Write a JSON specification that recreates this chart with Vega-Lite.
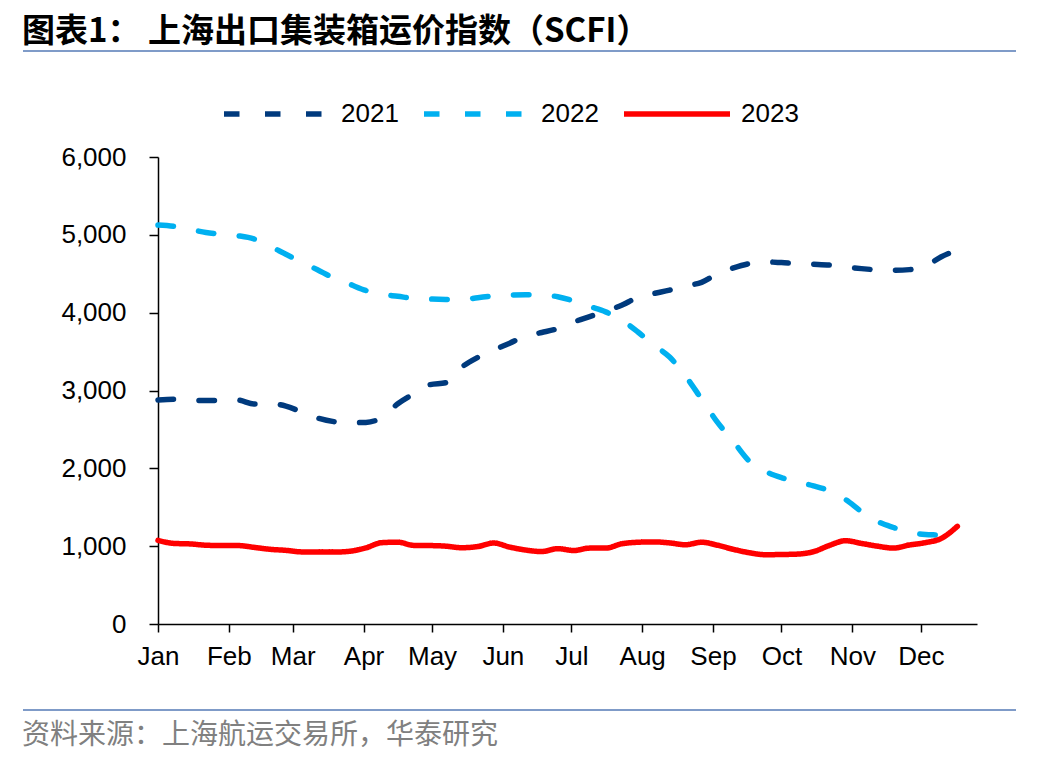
{
  "$schema": "https://vega.github.io/schema/vega-lite/v6.json",
  "description": "SCFI weekly index 2021-2023, read from the reference chart.",
  "padding": {"left": 22, "top": 16, "right": 10, "bottom": 5},
  "spacing": 10,
  "config": {
    "view": {"stroke": null},
    "font": "Liberation Sans",
    "legend": {
      "orient": "none",
      "legendX": 63,
      "legendY": 7,
      "direction": "horizontal",
      "padding": 0,
      "symbolType": "stroke",
      "symbolSize": 11236,
      "symbolStrokeWidth": 5.5,
      "labelFontSize": 26,
      "labelFont": "Liberation Sans",
      "labelColor": "#000000",
      "labelOffset": 8,
      "columnPadding": 14
    }
  },
  "vconcat": [
    {
      "width": 858,
      "height": 83,
      "title": {
        "text": "图表1： 上海出口集装箱运价指数（SCFI）",
        "anchor": "start",
        "font": "Noto Sans CJK SC",
        "fontSize": 33,
        "fontWeight": "bold",
        "color": "#000000",
        "offset": 1
      },
      "data": {"values": [{"start": 0, "end": 1, "pos": 1}]},
      "mark": {"type": "rule", "color": "#7F9BC8", "strokeWidth": 2},
      "encoding": {
        "x": {"field": "start", "type": "quantitative", "scale": {"domain": [0, 1], "range": [-135, 858]}, "axis": null},
        "x2": {"field": "end"},
        "y": {"field": "pos", "type": "quantitative", "scale": {"domain": [0, 1]}, "axis": null}
      }
    },
    {
      "width": 819,
      "height": 467,
      "data": {
        "values": [
          {"year": "2021", "day": 0, "scfi": 2878},
          {"year": "2021", "day": 7, "scfi": 2888},
          {"year": "2021", "day": 14, "scfi": 2878},
          {"year": "2021", "day": 21, "scfi": 2870},
          {"year": "2021", "day": 28, "scfi": 2870},
          {"year": "2021", "day": 35, "scfi": 2876},
          {"year": "2021", "day": 42, "scfi": 2827},
          {"year": "2021", "day": 49, "scfi": 2832},
          {"year": "2021", "day": 56, "scfi": 2800},
          {"year": "2021", "day": 63, "scfi": 2723},
          {"year": "2021", "day": 70, "scfi": 2645},
          {"year": "2021", "day": 77, "scfi": 2600},
          {"year": "2021", "day": 84, "scfi": 2586},
          {"year": "2021", "day": 91, "scfi": 2590},
          {"year": "2021", "day": 98, "scfi": 2652},
          {"year": "2021", "day": 105, "scfi": 2830},
          {"year": "2021", "day": 112, "scfi": 2958},
          {"year": "2021", "day": 119, "scfi": 3075},
          {"year": "2021", "day": 126, "scfi": 3100},
          {"year": "2021", "day": 133, "scfi": 3300},
          {"year": "2021", "day": 140, "scfi": 3425},
          {"year": "2021", "day": 147, "scfi": 3520},
          {"year": "2021", "day": 154, "scfi": 3608},
          {"year": "2021", "day": 161, "scfi": 3700},
          {"year": "2021", "day": 168, "scfi": 3745},
          {"year": "2021", "day": 175, "scfi": 3795},
          {"year": "2021", "day": 182, "scfi": 3880},
          {"year": "2021", "day": 189, "scfi": 3950},
          {"year": "2021", "day": 196, "scfi": 4020},
          {"year": "2021", "day": 203, "scfi": 4095},
          {"year": "2021", "day": 210, "scfi": 4195},
          {"year": "2021", "day": 217, "scfi": 4245},
          {"year": "2021", "day": 224, "scfi": 4290},
          {"year": "2021", "day": 231, "scfi": 4343},
          {"year": "2021", "day": 238, "scfi": 4390},
          {"year": "2021", "day": 245, "scfi": 4500},
          {"year": "2021", "day": 252, "scfi": 4575},
          {"year": "2021", "day": 259, "scfi": 4630},
          {"year": "2021", "day": 266, "scfi": 4652},
          {"year": "2021", "day": 273, "scfi": 4643},
          {"year": "2021", "day": 280, "scfi": 4630},
          {"year": "2021", "day": 287, "scfi": 4622},
          {"year": "2021", "day": 294, "scfi": 4612},
          {"year": "2021", "day": 301, "scfi": 4588},
          {"year": "2021", "day": 308, "scfi": 4566},
          {"year": "2021", "day": 315, "scfi": 4550},
          {"year": "2021", "day": 322, "scfi": 4545},
          {"year": "2021", "day": 329, "scfi": 4553},
          {"year": "2021", "day": 336, "scfi": 4600},
          {"year": "2021", "day": 343, "scfi": 4718},
          {"year": "2021", "day": 350, "scfi": 4805},
          {"year": "2022", "day": 0, "scfi": 5126},
          {"year": "2022", "day": 7, "scfi": 5109},
          {"year": "2022", "day": 14, "scfi": 5070},
          {"year": "2022", "day": 21, "scfi": 5030},
          {"year": "2022", "day": 28, "scfi": 5008},
          {"year": "2022", "day": 35, "scfi": 4988},
          {"year": "2022", "day": 42, "scfi": 4948},
          {"year": "2022", "day": 49, "scfi": 4855},
          {"year": "2022", "day": 56, "scfi": 4750},
          {"year": "2022", "day": 63, "scfi": 4650},
          {"year": "2022", "day": 70, "scfi": 4548},
          {"year": "2022", "day": 77, "scfi": 4445},
          {"year": "2022", "day": 84, "scfi": 4365},
          {"year": "2022", "day": 91, "scfi": 4285},
          {"year": "2022", "day": 98, "scfi": 4235},
          {"year": "2022", "day": 105, "scfi": 4210},
          {"year": "2022", "day": 112, "scfi": 4183},
          {"year": "2022", "day": 119, "scfi": 4175},
          {"year": "2022", "day": 126, "scfi": 4170},
          {"year": "2022", "day": 133, "scfi": 4168},
          {"year": "2022", "day": 140, "scfi": 4192},
          {"year": "2022", "day": 147, "scfi": 4216},
          {"year": "2022", "day": 154, "scfi": 4226},
          {"year": "2022", "day": 161, "scfi": 4231},
          {"year": "2022", "day": 168, "scfi": 4227},
          {"year": "2022", "day": 175, "scfi": 4205},
          {"year": "2022", "day": 182, "scfi": 4150},
          {"year": "2022", "day": 189, "scfi": 4080},
          {"year": "2022", "day": 196, "scfi": 4010},
          {"year": "2022", "day": 203, "scfi": 3905},
          {"year": "2022", "day": 210, "scfi": 3755},
          {"year": "2022", "day": 217, "scfi": 3585},
          {"year": "2022", "day": 224, "scfi": 3430},
          {"year": "2022", "day": 231, "scfi": 3185},
          {"year": "2022", "day": 238, "scfi": 2890},
          {"year": "2022", "day": 245, "scfi": 2590},
          {"year": "2022", "day": 252, "scfi": 2342},
          {"year": "2022", "day": 259, "scfi": 2090},
          {"year": "2022", "day": 266, "scfi": 1960},
          {"year": "2022", "day": 273, "scfi": 1880},
          {"year": "2022", "day": 280, "scfi": 1825},
          {"year": "2022", "day": 287, "scfi": 1775},
          {"year": "2022", "day": 294, "scfi": 1710},
          {"year": "2022", "day": 301, "scfi": 1600},
          {"year": "2022", "day": 308, "scfi": 1445},
          {"year": "2022", "day": 315, "scfi": 1318},
          {"year": "2022", "day": 322, "scfi": 1240},
          {"year": "2022", "day": 329, "scfi": 1178},
          {"year": "2022", "day": 336, "scfi": 1150},
          {"year": "2022", "day": 343, "scfi": 1140},
          {"year": "2022", "day": 350, "scfi": 1101},
          {"year": "2023", "day": 0, "scfi": 1075},
          {"year": "2023", "day": 7, "scfi": 1035},
          {"year": "2023", "day": 14, "scfi": 1029},
          {"year": "2023", "day": 21, "scfi": 1012},
          {"year": "2023", "day": 28, "scfi": 1008},
          {"year": "2023", "day": 35, "scfi": 1008},
          {"year": "2023", "day": 42, "scfi": 985},
          {"year": "2023", "day": 49, "scfi": 960},
          {"year": "2023", "day": 56, "scfi": 946},
          {"year": "2023", "day": 63, "scfi": 926},
          {"year": "2023", "day": 70, "scfi": 924},
          {"year": "2023", "day": 77, "scfi": 924},
          {"year": "2023", "day": 84, "scfi": 935},
          {"year": "2023", "day": 91, "scfi": 978},
          {"year": "2023", "day": 98, "scfi": 1045},
          {"year": "2023", "day": 105, "scfi": 1051},
          {"year": "2023", "day": 112, "scfi": 1010},
          {"year": "2023", "day": 119, "scfi": 1008},
          {"year": "2023", "day": 126, "scfi": 1000},
          {"year": "2023", "day": 133, "scfi": 980},
          {"year": "2023", "day": 140, "scfi": 995},
          {"year": "2023", "day": 147, "scfi": 1040},
          {"year": "2023", "day": 154, "scfi": 988},
          {"year": "2023", "day": 161, "scfi": 950},
          {"year": "2023", "day": 168, "scfi": 931},
          {"year": "2023", "day": 175, "scfi": 968},
          {"year": "2023", "day": 182, "scfi": 944},
          {"year": "2023", "day": 189, "scfi": 975},
          {"year": "2023", "day": 196, "scfi": 975},
          {"year": "2023", "day": 203, "scfi": 1030},
          {"year": "2023", "day": 210, "scfi": 1050},
          {"year": "2023", "day": 217, "scfi": 1055},
          {"year": "2023", "day": 224, "scfi": 1042},
          {"year": "2023", "day": 231, "scfi": 1018},
          {"year": "2023", "day": 238, "scfi": 1050},
          {"year": "2023", "day": 245, "scfi": 1012},
          {"year": "2023", "day": 252, "scfi": 958},
          {"year": "2023", "day": 259, "scfi": 915},
          {"year": "2023", "day": 266, "scfi": 890},
          {"year": "2023", "day": 273, "scfi": 893},
          {"year": "2023", "day": 280, "scfi": 898},
          {"year": "2023", "day": 287, "scfi": 929},
          {"year": "2023", "day": 294, "scfi": 1010},
          {"year": "2023", "day": 301, "scfi": 1070},
          {"year": "2023", "day": 308, "scfi": 1035},
          {"year": "2023", "day": 315, "scfi": 1000},
          {"year": "2023", "day": 322, "scfi": 975},
          {"year": "2023", "day": 329, "scfi": 1015},
          {"year": "2023", "day": 336, "scfi": 1045},
          {"year": "2023", "day": 343, "scfi": 1100},
          {"year": "2023", "day": 350, "scfi": 1255}
        ]
      },
      "mark": {"type": "line", "strokeWidth": 5.5, "strokeCap": "round", "interpolate": "monotone"},
      "encoding": {
        "x": {
          "field": "day",
          "type": "quantitative",
          "scale": {"domain": [0, 358.6], "nice": false, "zero": false},
          "axis": {
            "title": null,
            "grid": false,
            "values": [0, 31, 59, 90, 120, 151, 181, 212, 243, 273, 304, 334],
            "labelExpr": "timeFormat(datetime(2023, 0, 1 + datum.value), '%b')",
            "labelFlush": false,
            "labelOverlap": false,
            "labelFontSize": 26,
            "labelColor": "#000000",
            "labelPadding": 11,
            "tickSize": 8,
            "tickWidth": 1.5,
            "tickColor": "#000000",
            "domainWidth": 1.5,
            "domainColor": "#000000",
            "minExtent": 75
          }
        },
        "y": {
          "field": "scfi",
          "type": "quantitative",
          "scale": {"domain": [0, 6000], "nice": false},
          "axis": {
            "title": null,
            "grid": false,
            "values": [0, 1000, 2000, 3000, 4000, 5000, 6000],
            "format": ",.0f",
            "labelFontSize": 26,
            "labelColor": "#000000",
            "labelPadding": 23,
            "tickSize": 9,
            "tickWidth": 1.5,
            "tickColor": "#000000",
            "domainWidth": 1.5,
            "domainColor": "#000000",
            "minExtent": 135
          }
        },
        "color": {
          "field": "year",
          "type": "nominal",
          "scale": {"domain": ["2021", "2022", "2023"], "range": ["#003A7D", "#00B0F0", "#FF0000"]},
          "legend": {"title": null}
        },
        "strokeDash": {
          "field": "year",
          "type": "nominal",
          "scale": {"domain": ["2021", "2022", "2023"], "range": [[15.5, 25.5], [15.5, 25.5], [1, 0]]},
          "legend": {"title": null}
        }
      }
    },
    {
      "width": 858,
      "height": 1,
      "title": {
        "text": "资料来源：上海航运交易所，华泰研究",
        "orient": "bottom",
        "anchor": "start",
        "font": "Noto Sans CJK SC",
        "fontSize": 28,
        "fontWeight": "normal",
        "color": "#808080",
        "offset": 11
      },
      "data": {"values": [{"start": 0, "end": 1, "pos": 1}]},
      "mark": {"type": "rule", "color": "#7F9BC8", "strokeWidth": 2},
      "encoding": {
        "x": {"field": "start", "type": "quantitative", "scale": {"domain": [0, 1], "range": [-135, 858]}, "axis": null},
        "x2": {"field": "end"},
        "y": {"field": "pos", "type": "quantitative", "scale": {"domain": [0, 1]}, "axis": null}
      }
    }
  ]
}
